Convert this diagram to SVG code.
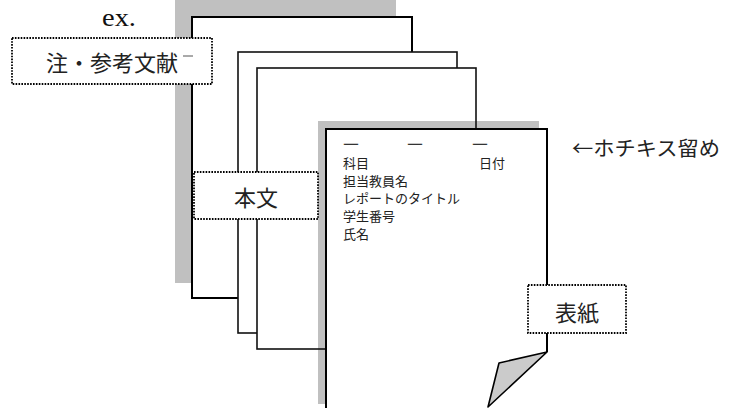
<svg xmlns="http://www.w3.org/2000/svg" width="733" height="408" viewBox="0 0 733 408">
  <style>
    .shadow { fill: #c0c0c0; stroke: none; }
    .page { fill: #ffffff; stroke: #000; stroke-width: 2; }
    .page-thin { fill: #ffffff; stroke: #111; stroke-width: 1.6; }
    .edge { fill: none; stroke: #111; stroke-width: 1.6; }
    .label-box { fill: #ffffff; stroke: #000; stroke-width: 1.8; stroke-dasharray: 1.6 1.3; }
    .jp { font-family: "Noto Sans CJK JP", "Noto Sans", sans-serif; fill: #222; }
    .big { font-size: 22px; }
    .small { font-size: 13px; }
    .rule { stroke: #222; stroke-width: 0.5; }
    .latin { font-family: "Liberation Serif", "DejaVu Serif", serif; fill: #111; }
  </style>

  <!-- back sheet: notes and references -->
  <g id="sheet-notes">
    <rect class="shadow" x="175" y="0" width="221" height="283"/>
    <rect class="page" x="192" y="17" width="220" height="281"/>
  </g>

  <!-- body sheets -->
  <g id="sheet-body-1">
    <rect class="page-thin" x="238" y="52" width="219" height="281"/>
  </g>
  <g id="sheet-body-2">
    <rect x="257" y="68" width="219" height="281" fill="#ffffff" stroke="none"/>
  </g>

  <!-- cover sheet with folded corner -->
  <g id="sheet-cover">
    <path class="shadow" d="M318,404 V121 H539 V129 H326 V404 Z"/>
    <rect class="edge" x="257" y="68" width="219" height="281"/>
    <path d="M326,410 V129 H547 V352 L499,363 L488,410 Z" fill="#ffffff" stroke="none"/>
    <path d="M326,410 V129 H547 V352" fill="none" stroke="#000" stroke-width="2"/>
    <polygon points="547,352 499,363 488,407" fill="#cbcbcb" stroke="#000" stroke-width="1.6" stroke-linejoin="round"/>
    <g class="jp small">
      <text class="rule" x="343" y="143" dominant-baseline="central" textLength="16" lengthAdjust="spacingAndGlyphs">―</text>
      <text class="rule" x="407" y="143" dominant-baseline="central" textLength="16" lengthAdjust="spacingAndGlyphs">―</text>
      <text class="rule" x="472" y="143" dominant-baseline="central" textLength="16" lengthAdjust="spacingAndGlyphs">―</text>
      <text x="343" y="162" dominant-baseline="central">科目</text>
      <text x="479" y="162" dominant-baseline="central">日付</text>
      <text x="343" y="180" dominant-baseline="central">担当教員名</text>
      <text x="343" y="197.5" dominant-baseline="central">レポートのタイトル</text>
      <text x="343" y="215" dominant-baseline="central">学生番号</text>
      <text x="343" y="233" dominant-baseline="central">氏名</text>
    </g>
  </g>

  <!-- captions -->
  <g id="caption-example">
    <text class="latin" x="102" y="26" font-size="26" textLength="34" lengthAdjust="spacingAndGlyphs">ex.</text>
  </g>

  <g id="label-notes">
    <rect class="label-box" x="12" y="38" width="200" height="46"/>
    <text class="jp big" x="112" y="61" text-anchor="middle" dominant-baseline="central">注・参考文献</text>
    <line x1="183" y1="56" x2="193" y2="56" stroke="#555" stroke-width="1"/>
  </g>

  <g id="label-body">
    <rect class="label-box" x="194" y="172" width="124" height="47"/>
    <text class="jp big" x="256" y="196" text-anchor="middle" dominant-baseline="central">本文</text>
  </g>

  <g id="label-cover">
    <rect class="label-box" x="528" y="285" width="98" height="48"/>
    <text class="jp big" x="577" y="311" text-anchor="middle" dominant-baseline="central">表紙</text>
  </g>

  <g id="label-staple">
    <text class="jp" x="572" y="147" font-size="20" dominant-baseline="central" textLength="148" lengthAdjust="spacingAndGlyphs">←ホチキス留め</text>
  </g>
</svg>
